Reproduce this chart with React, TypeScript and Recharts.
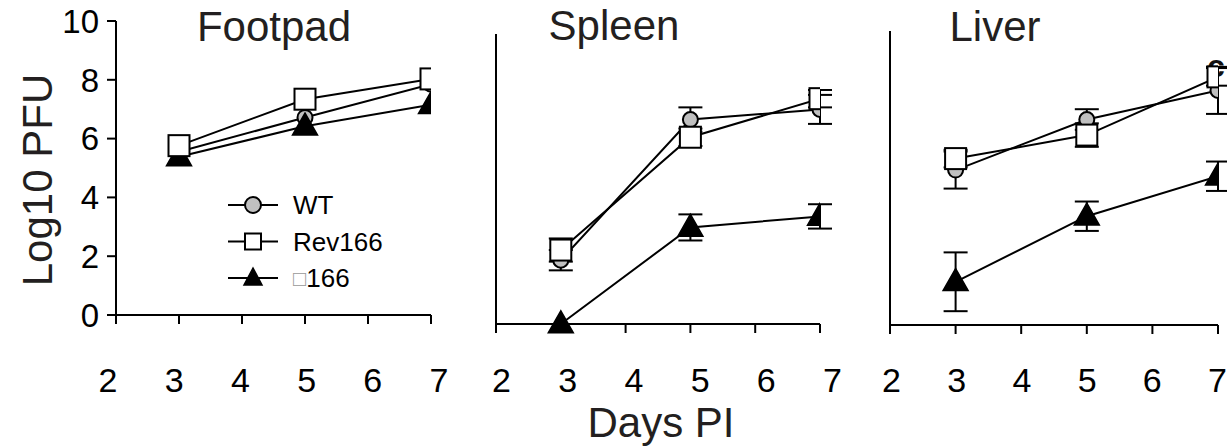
import React from 'react';
import { LineChart, Line, XAxis, YAxis, ErrorBar, Legend } from 'recharts';

// ---------- data ----------
const days = [3, 5, 7];
const xTicks = [2, 3, 4, 5, 6, 7];
const yTicks = [0, 2, 4, 6, 8, 10];
const seriesNames = ['WT', 'Rev166', '\u25A1166'];

const footpadWT = [5.55, 6.72, 7.85];
const footpadRev = [5.76, 7.34, 8.03];
const footpadD166 = [5.38, 6.42, 7.15];

const spleenWT = [2.2, 7.05, 7.4];
const spleenWTErr = [0.35, 0.42, 0.5];
const spleenRev = [2.55, 6.44, 7.77];
const spleenRevErr = [0.4, 0.3, 0.3];
const spleenD166 = [0, 3.33, 3.71];
const spleenD166Err = [0, 0.45, 0.42];

const liverWT = [5.27, 6.99, 7.98];
const liverWTErr = [0.63, 0.35, 0.8];
const liverRev = [5.66, 6.46, 8.44];
const liverRevErr = [0.3, 0.4, 0.3];
const liverD166 = [1.47, 3.7, 5.06];
const liverD166Err = [1.0, 0.5, 0.5];

const zeros = [0, 0, 0];

const build = (wt: number[], wtE: number[], rev: number[], revE: number[], d: number[], dE: number[]) =>
  days.map((day, i) => ({ day, wt: wt[i], wtErr: wtE[i], rev: rev[i], revErr: revE[i], d166: d[i], d166Err: dE[i] }));

const footpadData = build(footpadWT, zeros, footpadRev, zeros, footpadD166, zeros);
const spleenData = build(spleenWT, spleenWTErr, spleenRev, spleenRevErr, spleenD166, spleenD166Err);
const liverData = build(liverWT, liverWTErr, liverRev, liverRevErr, liverD166, liverD166Err);

// ---------- styles ----------
const FONT = '"Liberation Sans", Arial, Helvetica, sans-serif';
const GRAY = '#c0c0c0';
const LABEL_Y = 392;

const SquareDot = (props: any) => {
  const { cx, cy, index } = props;
  if (cx == null || cy == null) return <g key={index} />;
  const s = 21;
  return <rect key={index} x={cx - s / 2} y={cy - s / 2} width={s} height={s} fill="#fff" stroke="#000" strokeWidth={2} />;
};

const TriangleDot = (props: any) => {
  const { cx, cy, index } = props;
  if (cx == null || cy == null) return <g key={index} />;
  const w = 25, h = 22;
  const pts = `${cx},${cy - h * 0.6} ${cx - w / 2},${cy + h * 0.4} ${cx + w / 2},${cy + h * 0.4}`;
  return <polygon key={index} points={pts} fill="#000" stroke="#000" strokeWidth={1.5} strokeLinejoin="miter" />;
};

// tick label, with a small horizontal spread/shift (labels in the original sit slightly wider than the ticks)
const makeXTick = (shift: number, spread: number) => (props: any) => {
  const { x, payload } = props;
  const lx = x + shift + (payload.value - 4.5) * spread;
  return (
    <text x={lx} y={LABEL_Y} textAnchor="middle" fontSize={34} fontFamily={FONT} fill="#000">
      {payload.value}
    </text>
  );
};

const LegendContent = () => {
  const rows = [0, 1, 2];
  return (
    <svg width={170} height={110} style={{ overflow: 'visible', display: 'block' }}>
      {rows.map((i) => {
        const y = 15 + i * 36.5;
        return (
          <g key={i}>
            <line x1={0} y1={y} x2={50} y2={y} stroke="#000" strokeWidth={2} />
            {i === 0 && <circle cx={25} cy={y} r={8} fill={GRAY} stroke="#000" strokeWidth={2} />}
            {i === 1 && <rect x={17} y={y - 8} width={16} height={16} fill="#fff" stroke="#000" strokeWidth={2} />}
            {i === 2 && <polygon points={`25,${y - 10} 16,${y + 7} 34,${y + 7}`} fill="#000" stroke="#000" strokeWidth={1.5} />}
            <text x={65} y={y} dominantBaseline="central" fontSize={26} fontFamily={FONT} fill="#000">
              {i === 2 ? (
                <>
                  <tspan fill="#999" fontSize={22}>{'\u25A1'}</tspan>
                  <tspan>166</tspan>
                </>
              ) : (
                seriesNames[i]
              )}
            </text>
          </g>
        );
      })}
    </svg>
  );
};

type PanelProps = {
  left: number;
  width: number;
  margin: { top: number; right: number; bottom: number; left: number };
  data: any[];
  yAxisWidth: number;
  showYLabels: boolean;
  withErrors: boolean;
  legend?: boolean;
  labelShift: number;
  labelSpread: number;
};

const Panel = ({ left, width, margin, data, yAxisWidth, showYLabels, withErrors, legend, labelShift, labelSpread }: PanelProps) => {
  const eb = (key: string) =>
    withErrors ? <ErrorBar dataKey={key} width={12} stroke="#000" strokeWidth={2} direction="y" /> : null;
  const XTick = makeXTick(labelShift, labelSpread);
  return (
    <div style={{ position: 'absolute', left, top: 0, width, height: 447 }}>
      <LineChart width={width} height={447} data={data} margin={margin} style={{ overflow: 'visible' }}>
        <XAxis
          type="number"
          dataKey="day"
          domain={[2, 7]}
          ticks={xTicks}
          allowDataOverflow
          axisLine={{ stroke: '#000', strokeWidth: 2 }}
          tickLine={{ stroke: '#000', strokeWidth: 2 }}
          tickSize={9}
          tick={<XTick />}
          height={80}
        />
        <YAxis
          type="number"
          domain={[0, 10]}
          ticks={yTicks}
          width={yAxisWidth}
          axisLine={{ stroke: '#000', strokeWidth: 2 }}
          tickLine={{ stroke: '#000', strokeWidth: 2 }}
          tickSize={9}
          tickMargin={8}
          tick={showYLabels ? { fontSize: 33, fill: '#000', fontFamily: FONT } : false}
        />
        {legend && (
          <Legend
            layout="vertical"
            verticalAlign="middle"
            align="center"
            content={<LegendContent />}
            wrapperStyle={{ left: 228, top: 190, width: 170, height: 110 }}
          />
        )}
        <Line
          dataKey="wt"
          name="WT"
          stroke="#000"
          strokeWidth={2}
          isAnimationActive={false}
          dot={{ r: 7.5, fill: GRAY, stroke: '#000', strokeWidth: 2 }}
          activeDot={false}
        >
          {eb('wtErr')}
        </Line>
        <Line
          dataKey="d166"
          name={seriesNames[2]}
          stroke="#000"
          strokeWidth={2}
          isAnimationActive={false}
          dot={<TriangleDot />}
          activeDot={false}
        >
          {eb('d166Err')}
        </Line>
        <Line
          dataKey="rev"
          name="Rev166"
          stroke="#000"
          strokeWidth={2}
          isAnimationActive={false}
          dot={<SquareDot />}
          activeDot={false}
        >
          {eb('revErr')}
        </Line>
      </LineChart>
    </div>
  );
};

const Overlay = () => (
  <svg width={1227} height={447} style={{ position: 'absolute', left: 0, top: 0 }}>
    <text x={1207} y={77} fontSize={32} fontWeight="bold" fontFamily={FONT} fill="#111">c</text>
    <text x={274} y={41} textAnchor="middle" fontSize={42} fontFamily={FONT} fill="#231f20">Footpad</text>
    <text x={614} y={40} textAnchor="middle" fontSize={42} fontFamily={FONT} fill="#231f20">Spleen</text>
    <text x={995} y={41} textAnchor="middle" fontSize={42} fontFamily={FONT} fill="#231f20">Liver</text>
    <text x={661} y={437} textAnchor="middle" fontSize={42} fontFamily={FONT} fill="#231f20">Days PI</text>
    <text
      transform="translate(52,180) rotate(-90)"
      textAnchor="middle"
      fontSize={42}
      fontFamily={FONT}
      fill="#231f20"
    >
      Log10 PFU
    </text>
  </svg>
);

export default function App() {
  return (
    <div style={{ position: 'absolute', left: 0, top: 0, width: 1227, height: 447, background: '#fff', overflow: 'hidden' }}>
      <Overlay />
      <Panel
        left={0}
        width={470}
        margin={{ top: 21, right: 39, bottom: 52, left: 16 }}
        data={footpadData}
        yAxisWidth={100}
        showYLabels
        withErrors={false}
        legend
        labelShift={0}
        labelSpread={3.2}
      />
      <Panel
        left={440}
        width={420}
        margin={{ top: 34, right: 40, bottom: 43, left: 36 }}
        data={spleenData}
        yAxisWidth={20}
        showYLabels={false}
        withErrors
        labelShift={9}
        labelSpread={1.4}
      />
      <Panel
        left={840}
        width={400}
        margin={{ top: 31, right: 22, bottom: 42, left: 30 }}
        data={liverData}
        yAxisWidth={20}
        showYLabels={false}
        withErrors
        labelShift={0.5}
        labelSpread={-0.4}
      />
    </div>
  );
}
